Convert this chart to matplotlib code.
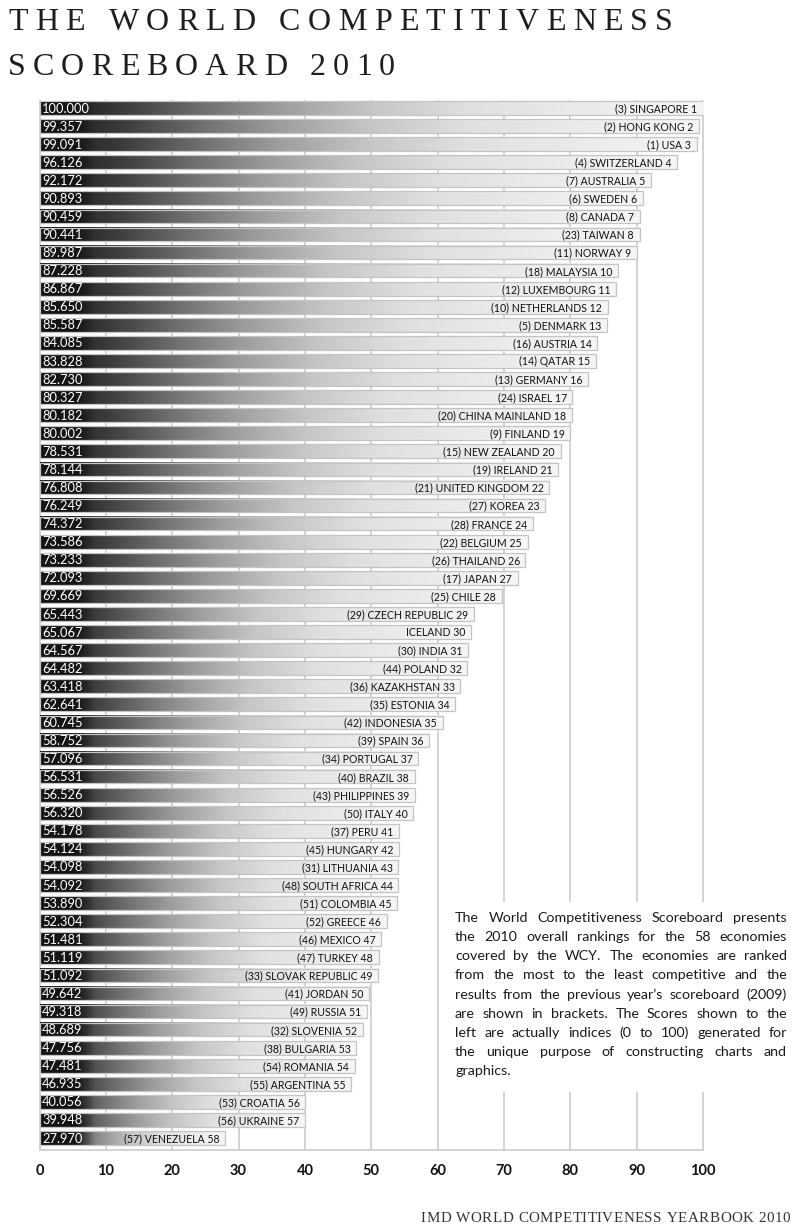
import matplotlib
matplotlib.use("Agg")
import matplotlib.pyplot as plt
import numpy as np
from matplotlib.colors import LinearSegmentedColormap
from matplotlib.patches import Rectangle
from matplotlib.font_manager import FontProperties

# ---------------- data ----------------
countries = ["SINGAPORE", "HONG KONG", "USA", "SWITZERLAND", "AUSTRALIA", "SWEDEN",
             "CANADA", "TAIWAN", "NORWAY", "MALAYSIA", "LUXEMBOURG", "NETHERLANDS",
             "DENMARK", "AUSTRIA", "QATAR", "GERMANY", "ISRAEL", "CHINA MAINLAND",
             "FINLAND", "NEW ZEALAND", "IRELAND", "UNITED KINGDOM", "KOREA", "FRANCE",
             "BELGIUM", "THAILAND", "JAPAN", "CHILE", "CZECH REPUBLIC", "ICELAND",
             "INDIA", "POLAND", "KAZAKHSTAN", "ESTONIA", "INDONESIA", "SPAIN",
             "PORTUGAL", "BRAZIL", "PHILIPPINES", "ITALY", "PERU", "HUNGARY",
             "LITHUANIA", "SOUTH AFRICA", "COLOMBIA", "GREECE", "MEXICO", "TURKEY",
             "SLOVAK REPUBLIC", "JORDAN", "RUSSIA", "SLOVENIA", "BULGARIA", "ROMANIA",
             "ARGENTINA", "CROATIA", "UKRAINE", "VENEZUELA"]
prev_rank = [3, 2, 1, 4, 7, 6, 8, 23, 11, 18, 12, 10, 5, 16, 14, 13, 24, 20, 9, 15,
             19, 21, 27, 28, 22, 26, 17, 25, 29, None, 30, 44, 36, 35, 42, 39, 34, 40,
             43, 50, 37, 45, 31, 48, 51, 52, 46, 47, 33, 41, 49, 32, 38, 54, 55, 53,
             56, 57]
scores = [100.000, 99.357, 99.091, 96.126, 92.172, 90.893, 90.459, 90.441, 89.987,
          87.228, 86.867, 85.650, 85.587, 84.085, 83.828, 82.730, 80.327, 80.182,
          80.002, 78.531, 78.144, 76.808, 76.249, 74.372, 73.586, 73.233, 72.093,
          69.669, 65.443, 65.067, 64.567, 64.482, 63.418, 62.641, 60.745, 58.752,
          57.096, 56.531, 56.526, 56.320, 54.178, 54.124, 54.098, 54.092, 53.890,
          52.304, 51.481, 51.119, 51.092, 49.642, 49.318, 48.689, 47.756, 47.481,
          46.935, 40.056, 39.948, 27.970]
x_ticks = [0, 10, 20, 30, 40, 50, 60, 70, 80, 90, 100]

title_lines = ["THE WORLD COMPETITIVENESS", "SCOREBOARD 2010"]
footer = "IMD WORLD COMPETITIVENESS YEARBOOK 2010"
paragraph = ["The World Competitiveness Scoreboard presents",
             "the 2010 overall rankings for the 58 economies",
             "covered by the WCY. The economies are ranked",
             "from the most to the least competitive and the",
             "results from the previous year\u2019s scoreboard (2009)",
             "are shown in brackets. The Scores shown to the",
             "left are actually indices (0 to 100) generated for",
             "the unique purpose of constructing charts and",
             "graphics."]

# ---------------- figure ----------------
W, H = 800, 1231
DPI = 100
fig = plt.figure(figsize=(W / DPI, H / DPI), dpi=DPI)
fig.patch.set_facecolor("white")

SANS = ["Lato", "DejaVu Sans"]
SERIF = ["Liberation Serif", "DejaVu Serif"]

x0_px, x100_px = 39.5, 703.0
top_px, bot_px = 100.0, 1150.0
ax = fig.add_axes([x0_px / W, 1 - bot_px / H, (x100_px - x0_px) / W, (bot_px - top_px) / H])
n = len(scores)
pitch = 18.07
ylim_top = -(108 - top_px) / pitch
ylim_bot = (n - 1) + (bot_px - 1138.0) / pitch
ax.set_xlim(0, 100)
ax.set_ylim(ylim_bot, ylim_top)

# gridlines
grid_c = "#d0d0d0"
ax.vlines(x_ticks, ylim_top, ylim_bot, colors=grid_c, lw=1.3, zorder=0.5, clip_on=False)
for s in ["top", "left", "right"]:
    ax.spines[s].set_visible(False)
ax.spines["bottom"].set_color(grid_c)
ax.spines["bottom"].set_linewidth(1.3)
ax.set_yticks([])
ax.set_xticks(x_ticks)
ax.set_xticklabels([str(t) for t in x_ticks])
ax.tick_params(axis="x", length=0, pad=10)
for lab in ax.get_xticklabels():
    lab.set_fontfamily(SANS)
    lab.set_fontweight("bold")
    lab.set_fontsize(10.5)
    lab.set_color("#111111")

cmap = LinearSegmentedColormap.from_list("bar", [
    (0.0, "#141414"), (0.12, "#3a3a3a"), (0.25, "#727272"), (0.36, "#9c9c9c"),
    (0.5, "#c6c6c6"), (0.65, "#e0e0e0"), (1.0, "#f6f6f6")])
grad = np.linspace(0, 1, 256).reshape(1, -1)

# dark score box that fades into the gradient at its right end
box_rgba = np.zeros((1, 64, 4))
box_rgba[..., :3] = 0.08
alpha = np.ones(64)
alpha[40:] = np.linspace(1, 0, 24)
box_rgba[0, :, 3] = alpha

bh = 0.76
box_w = 8.2
for i, (c, p, v) in enumerate(zip(countries, prev_rank, scores)):
    ax.imshow(grad, cmap=cmap, aspect="auto", extent=[0, v, i + bh / 2, i - bh / 2],
              zorder=2, interpolation="bilinear")
    ax.imshow(box_rgba, aspect="auto", extent=[0, box_w, i + bh / 2, i - bh / 2],
              zorder=2.5, interpolation="bilinear")
    ax.add_patch(Rectangle((0, i - bh / 2), v, bh, facecolor="none",
                           edgecolor="#c4c4c4", lw=0.9, zorder=3))
    ax.text(0.4, i + 0.03, f"{v:.3f}", color="white", fontsize=9.3, family=SANS,
            ha="left", va="center", zorder=4)
    label = (f"({p}) " if p is not None else "") + f"{c} {i + 1}"
    ax.text(v - 0.85, i + 0.04, label, color="#111111", fontsize=7.6, family=SANS,
            ha="right", va="center", zorder=4)
ax.set_xlim(0, 100)
ax.set_ylim(ylim_bot, ylim_top)

renderer = fig.canvas.get_renderer()


def text_w(s, prop):
    w, h, d = renderer.get_text_width_height_descent(s, prop, ismath=False)
    return w


def tracked(s, xa, xb, ybase, prop, color):
    space_w = prop.get_size_in_points() * DPI / 72 * 0.28
    widths = [space_w if ch == " " else text_w(ch, prop) for ch in s]
    gap = (xb - xa - sum(widths)) / (len(s) - 1)
    x = xa
    for ch, w in zip(s, widths):
        if ch != " ":
            fig.text(x / W, 1 - ybase / H, ch, fontproperties=prop, ha="left",
                     va="baseline", color=color, zorder=5)
        x += w + gap


tprop = FontProperties(family=SERIF, size=23)
tracked(title_lines[0], 8, 673, 30, tprop, "#1e1e1e")
tracked(title_lines[1], 8, 395, 75, tprop, "#1e1e1e")
fprop = FontProperties(family=SERIF, size=10.8)
tracked(footer, 421, 790, 1222, fprop, "#333333")

# paragraph with white background
fig.patches.append(Rectangle((447 / W, 1 - 1092 / H), 350 / W, 190 / H,
                             transform=fig.transFigure, facecolor="white",
                             edgecolor="none", zorder=1))
pprop = FontProperties(family=SANS, size=10.3)
px0, px1 = 455, 787
for k, line in enumerate(paragraph):
    yb = 922 + k * 19.15
    words = line.split(" ")
    ws = [text_w(w_, pprop) for w_ in words]
    if k == len(paragraph) - 1:
        gap = pprop.get_size_in_points() * DPI / 72 * 0.3
    else:
        gap = (px1 - px0 - sum(ws)) / (len(words) - 1)
    x = px0
    for w_, ww in zip(words, ws):
        fig.text(x / W, 1 - yb / H, w_, fontproperties=pprop, ha="left",
                 va="baseline", color="#1a1a1a", zorder=5)
        x += ww + gap

fig.savefig("out.png", dpi=DPI, facecolor="white")
